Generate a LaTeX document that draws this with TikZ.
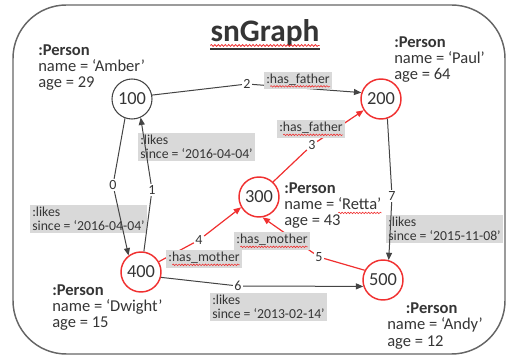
\documentclass[tikz,border=0pt]{standalone}
\usepackage{fontspec}
\setmainfont{Carlito}
\usetikzlibrary{arrows.meta,decorations.pathmorphing}
\definecolor{txt}{HTML}{353535}
\definecolor{ln}{HTML}{444444}
\definecolor{rd}{HTML}{F03030}
\definecolor{lb}{HTML}{D9D9D9}
\definecolor{frm}{HTML}{666666}
\newlength\wvlen
\newcommand\wv[1]{\settowidth\wvlen{#1}\rlap{\tikz[baseline=0pt]\draw[rd,line width=0.45pt,decorate,decoration={snake,amplitude=0.55pt,segment length=2.2pt}] (0pt,-2.4pt) -- (\wvlen,-2.4pt);}#1}
\tikzset{
  circ/.style={circle,draw=ln,line width=0.8pt,minimum size=30pt,inner sep=0pt,font=\fontsize{13.8}{14}\selectfont,text=txt},
  rcirc/.style={circ,draw=rd,line width=1.1pt},
  person/.style={align=left,inner sep=0pt,font=\fontsize{12.4}{12.2}\selectfont,text=txt,anchor=base west},
  elab/.style={fill=lb,align=left,inner sep=1.5pt,font=\fontsize{10.3}{10.5}\selectfont,text=txt},
  num/.style={fill=white,inner sep=1pt,font=\fontsize{10.5}{10.5}\selectfont,text=txt},
  edge/.style={draw=ln,line width=0.75pt,-{Triangle[length=5.5pt,width=4.5pt]}},
  redge/.style={edge,draw=rd,line width=0.9pt},
}
\begin{document}
\begin{tikzpicture}[x=0.75pt,y=-0.75pt]
\useasboundingbox (0,0) rectangle (508,360);
% frame
\draw[frm,line width=1.1pt,rounded corners=40pt] (13,5) rectangle (505,354);
% title
\node[inner sep=0pt,anchor=base,font=\bfseries\fontsize{23.5}{24}\selectfont,text=txt] (title) at (265,42) {snGraph};
\draw[rd,line width=0.6pt,decorate,decoration={snake,amplitude=0.7pt,segment length=2.6pt}] ([yshift=-2.6pt]title.base west) -- ([yshift=-2.6pt]title.base east);
\draw[txt,line width=1.4pt] ([yshift=-5.4pt]title.base west) -- ([yshift=-5.4pt]title.base east);
% vertices
\node[circ]  (n100) at (132,99)  {100};
\node[rcirc] (n200) at (381,99)  {200};
\node[rcirc] (n300) at (259,197) {300};
\node[rcirc] (n400) at (141,272) {400};
\node[rcirc] (n500) at (383,280) {500};
% properties
\node[person] (pa) at (38,88)  {\textbf{:Person}\\name = ‘Amber’\\age = 29};
\node[person] (pp) at (394,80) {\textbf{:Person}\\name = ‘Paul’\\age = 64};
\node[person] (pr) at (284,226) {\textbf{:Person}\\name = \wv{‘Retta’}\\age = 43};
\node[person] (pd) at (52,328) {\textbf{:Person}\\name = ‘Dwight’\\age = 15};
\node[person] (pn) at (387,346) {\hspace*{14pt}\textbf{:Person}\\name = ‘Andy’\\age = 12};
% two-line labels (under edges)
\node[elab,anchor=north west] (l0) at (30,205)  {:likes\\since = ‘2016-04-04’};
\node[elab,anchor=north west] (l1) at (138,133) {:likes\\since = ‘2016-04-04’};
\node[elab,anchor=north west] (l6) at (210,293) {:likes\\since = ‘2013-02-14’};
\node[elab,anchor=north west] (l7) at (386,215) {:likes\\since = ‘2015-11-08’};
% edge ids
\node[num] (e0) at (113,185) {0};
\node[num] (e1) at (152,190) {1};
\node[num] (e2) at (247,84)  {2};
\node[num] (e3) at (312,145) {3};
\node[num] (e4) at (199,240) {4};
\node[num] (e5) at (319,257) {5};
\node[num] (e6) at (238,286) {6};
\node[num] (e7) at (392,196) {7};
% edges
\draw[edge]  (n100.250) -- (e0) -- (n400.127);
\draw[edge]  (n400.82)  -- (e1) -- (n100.295);
\draw[edge]  (n100.11)  -- (e2) -- (n200.162);
\draw[redge] (n300.47)  -- (e3) -- (n200.213);
\draw[redge] (n400.30)  -- (e4) -- (n300.210);
\draw[redge] (n500.152) -- (e5) -- (n300.280);
\draw[edge]  (n400.345) -- (e6) -- (n500.198);
\draw[edge]  (n200.288) -- (e7) -- (n500.74);
% one-line labels (over edges)
\node[elab] (l2) at (298,80.5) {:\wv{has\_father}};
\node[elab] (l3) at (311,129)  {:\wv{has\_father}};
\node[elab] (l4) at (204,259)  {:\wv{has\_mother}};
\node[elab] (l5) at (272,241)  {:\wv{has\_mother}};
\end{tikzpicture}
\end{document}
